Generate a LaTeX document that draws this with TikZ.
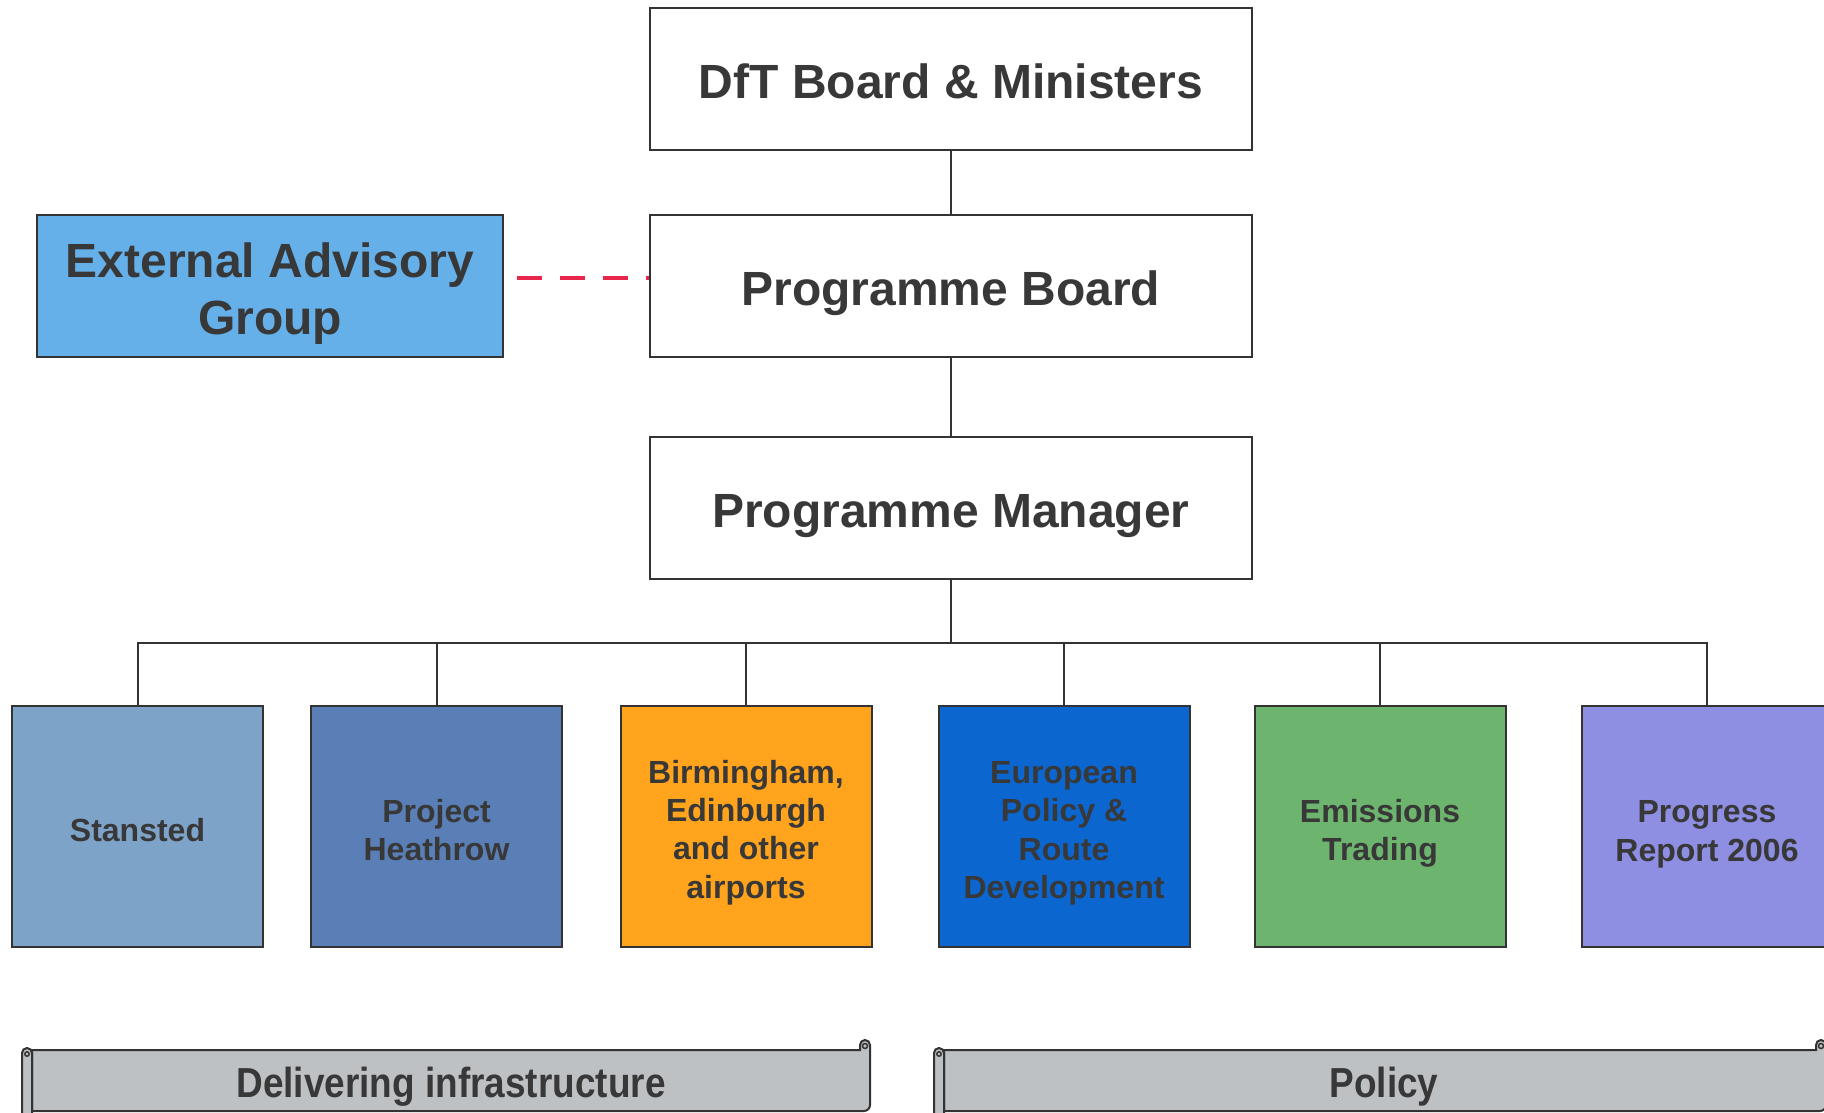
\documentclass[tikz,border=0pt]{standalone}
\usepackage{fontspec}
\setmainfont{Liberation Sans}
\definecolor{txt}{HTML}{383838}
\definecolor{edge}{HTML}{333333}
\definecolor{advblue}{HTML}{66B0EA}
\definecolor{stans}{HTML}{7DA3C9}
\definecolor{heath}{HTML}{5A7FB7}
\definecolor{birm}{HTML}{FFA41C}
\definecolor{euro}{HTML}{0C66D0}
\definecolor{emis}{HTML}{6DB56E}
\definecolor{prog}{HTML}{8E8EE2}
\definecolor{bgray}{HTML}{BEC1C4}
\definecolor{dashred}{HTML}{E8264C}
\begin{document}
\begin{tikzpicture}[x=1pt,y=-1pt,
  box/.style={draw=edge, line width=2pt, rectangle, inner sep=0pt},
  topbox/.style={box, fill=white, minimum width=602pt, minimum height=142pt},
  advbox/.style={box, fill=advblue, minimum width=466pt, minimum height=142pt},
  unit/.style={box, minimum width=251pt, minimum height=241pt},
  bigtext/.style={align=center, text=txt, inner sep=0pt, font=\fontsize{48}{57}\selectfont\bfseries},
  unittext/.style={align=center, text=txt, inner sep=0pt, font=\fontsize{32}{38.4}\selectfont\bfseries},
  conn/.style={draw=edge, line width=2pt},
  banner/.style={draw=edge, line width=2pt, fill=bgray},
  bannertext/.style={text=txt, inner sep=0pt, font=\fontsize{42}{50}\selectfont\bfseries}
]
\fill[white] (0,0) rectangle (1824,1113);
\useasboundingbox (0,0) rectangle (1824,1113);
\clip (0,0) rectangle (1824,1113);

% top hierarchy
\node[topbox] (dft) at (951,79.5) {};
\node[topbox] (board) at (951,286) {};
\node[advbox] (adv) at (270,286) {};
\node[topbox] (mgr) at (951,508) {};
\node[bigtext] (dftT) at ([yshift=-2pt]dft.center) {DfT Board \& Ministers};
\node[bigtext] (boardT) at ([yshift=-7pt]board.center) {Programme Board};
\node[bigtext] (advT) at ([yshift=-8pt]adv.center) {External Advisory\\Group};
\node[bigtext] (mgrT) at ([yshift=-8pt]mgr.center) {Programme Manager};

\draw[conn] (dft) -- (board);
\draw[conn] (board) -- (mgr);
\coordinate (dashy) at (0,278);
\draw[draw=dashred, line width=4.5pt, dash pattern=on 25pt off 18pt, dash phase=30pt]
  (adv.east |- dashy) -- (board.west |- dashy);

% units
\node[unit, fill=stans] (c1) at (137.5,826.5) {};
\node[unit, fill=heath] (c2) at (436.5,826.5) {};
\node[unit, fill=birm] (c3) at (746,826.5) {};
\node[unit, fill=euro] (c4) at (1064,826.5) {};
\node[unit, fill=emis] (c5) at (1380,826.5) {};
\node[unit, fill=prog] (c6) at (1707,826.5) {};
\node[unittext] (c1T) at ([yshift=-3.5pt]c1.center) {Stansted};
\node[unittext] (c2T) at ([yshift=-3.5pt]c2.center) {Project\\Heathrow};
\node[unittext] (c3T) at ([yshift=-6pt]c3.center) {Birmingham,\\Edinburgh\\and other\\airports};
\node[unittext] (c4T) at ([yshift=-7pt]c4.center) {European\\Policy \&\\Route\\Development};
\node[unittext] (c5T) at ([yshift=-7pt]c5.center) {Emissions\\Trading};
\node[unittext] (c6T) at ([yshift=-8pt]c6.center) {Progress\\Report 2006};

\coordinate (bus) at (951,643);
\draw[conn] (mgr.south) -- (mgr.south |- bus);
\draw[conn] (c1.north) -- (c1.north |- bus) -- (c6.north |- bus) -- (c6.north);
\foreach \c in {c2,c3,c4,c5} \draw[conn] (\c.north) -- (\c.north |- bus);

% banner 1: Delivering infrastructure
\draw[banner] (32,1050) -- (860,1050) -- (860,1045) arc[start angle=180, end angle=0, radius=5pt]
  -- (870,1105) arc[start angle=0, end angle=-90, radius=6pt] -- (32,1111) -- cycle;
\draw[edge, line width=1.5pt] (865,1046) circle[radius=2.5pt];
\draw[banner] (22,1120) -- (22,1053) arc[start angle=180, end angle=0, radius=5pt] -- (32,1120) -- cycle;
\draw[edge, line width=1.5pt] (27,1054) circle[radius=2.2pt];
\node[bannertext] (deliv) at (451,1087) {\scalebox{0.88}[1]{Delivering infrastructure}};

% banner 2: Policy
\draw[banner] (944,1050) -- (1816,1050) -- (1816,1045) arc[start angle=180, end angle=0, radius=5pt]
  -- (1826,1105) arc[start angle=0, end angle=-90, radius=6pt] -- (944,1111) -- cycle;
\draw[edge, line width=1.5pt] (1821,1046) circle[radius=2.5pt];
\draw[banner] (934,1120) -- (934,1053) arc[start angle=180, end angle=0, radius=5pt] -- (944,1120) -- cycle;
\draw[edge, line width=1.5pt] (939,1054) circle[radius=2.2pt];
\node[bannertext] (policy) at (1384,1087) {\scalebox{0.88}[1]{Policy}};
\end{tikzpicture}
\end{document}
